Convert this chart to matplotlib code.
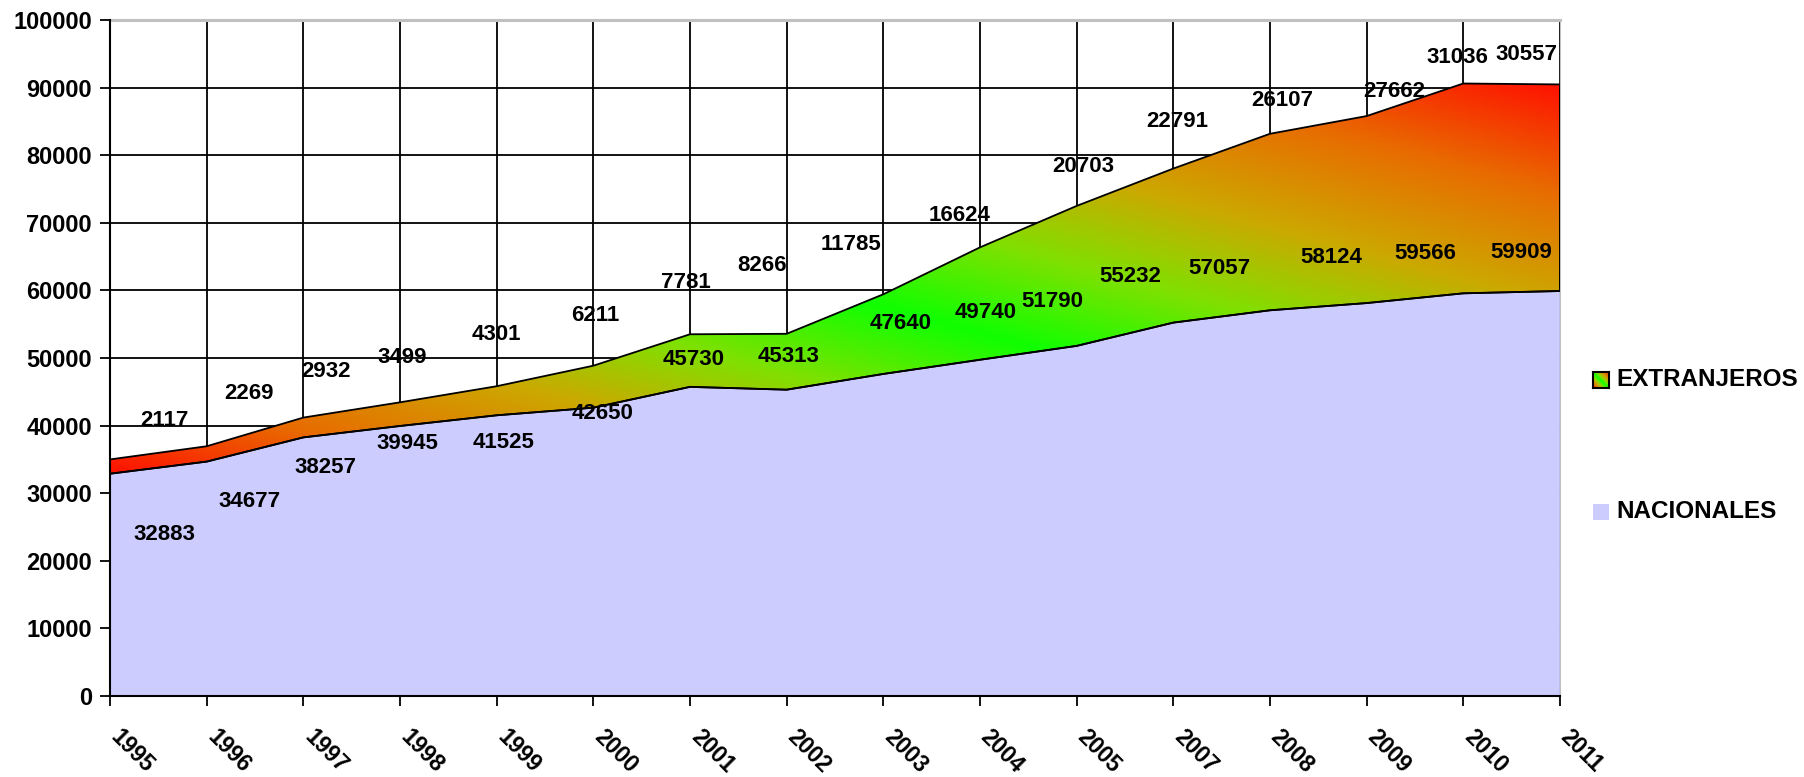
import numpy as np
import matplotlib
matplotlib.use('Agg')
import matplotlib.pyplot as plt
from matplotlib.colors import LinearSegmentedColormap
from matplotlib.transforms import ScaledTranslation

plt.rcParams['font.family'] = ['Liberation Sans', 'DejaVu Sans']
plt.rcParams['font.weight'] = 'bold'

# datos
years = ['1995', '1996', '1997', '1998', '1999', '2000', '2001', '2002',
         '2003', '2004', '2005', '2007', '2008', '2009', '2010', '2011']
nacionales = [32883, 34677, 38257, 39945, 41525, 42650, 45730, 45313,
              47640, 49740, 51790, 55232, 57057, 58124, 59566, 59909]
extranjeros = [2117, 2269, 2932, 3499, 4301, 6211, 7781, 8266,
               11785, 16624, 20703, 22791, 26107, 27662, 31036, 30557]

# posiciones de las etiquetas (colocadas a mano en el original)
nac_lx = [0.56, 1.44, 2.23, 3.08, 4.07, 5.10, 6.04, 7.02,
          8.18, 9.06, 9.75, 10.55, 11.48, 12.63, 13.61, 14.60]
nac_ly = [23850, 28790, 33730, 37310, 37480, 41740, 49750, 50260,
          55030, 56730, 58430, 62030, 63220, 64920, 65430, 65600]
ext_lx = [0.56, 1.44, 2.23, 3.02, 4.00, 5.02, 5.96, 6.75,
          7.67, 8.79, 10.07, 11.04, 12.13, 13.29, 13.94, 14.65]
ext_ly = [40720, 44820, 48050, 50100, 53500, 56230, 61170, 63730,
          66800, 71060, 78380, 85030, 88100, 89440, 94380, 94890]

x = np.arange(len(years))
nac = np.array(nacionales)
tot = nac + np.array(extranjeros)

grad = LinearSegmentedColormap.from_list('grad', [
    (0.0, '#ff1200'), (0.12, '#e86c00'), (0.25, '#cca800'), (0.36, '#80e000'),
    (0.48, '#10ff00'), (0.60, '#80e000'), (0.72, '#cca800'), (0.86, '#e86c00'),
    (1.0, '#ff1200')])

fig = plt.figure(figsize=(18.04, 7.77), dpi=100)
ax = fig.add_axes([0.061, 0.1042, 0.8037, 0.8701])

# area nacionales
ax.fill_between(x, 0, nac, facecolor='#ccccff', edgecolor='none', zorder=2)
ax.plot(x, nac, color='black', lw=1.3, zorder=3)

# area extranjeros con degradado
poly = ax.fill_between(x, nac, tot, facecolor='none', edgecolor='black', lw=1.3, zorder=4)
y0, y1 = nac.min(), tot.max()
uu, vv = np.meshgrid(np.linspace(0, 1, 400), np.linspace(0, 1, 300))
im = ax.imshow((uu + vv) / 2, cmap=grad, vmin=0, vmax=1, origin='lower',
               extent=[0, 15, y0, y1], aspect='auto', interpolation='bilinear', zorder=2.5)
im.set_clip_path(poly.get_paths()[0], transform=ax.transData)

# etiquetas
for i in range(len(years)):
    ax.text(nac_lx[i], nac_ly[i], str(nacionales[i]), ha='center', va='center',
            fontsize=16, fontweight='bold', zorder=6)
    ax.text(ext_lx[i], ext_ly[i], str(extranjeros[i]), ha='center', va='center',
            fontsize=16, fontweight='bold', zorder=6)

ax.set_xlim(0, 15)
ax.set_ylim(0, 100000)
ax.set_yticks(np.arange(0, 100001, 10000))
ax.set_xticks(x)
ax.set_xticklabels(years, rotation=-45, ha='left', va='top', rotation_mode='anchor')
ax.tick_params(axis='x', pad=14, labelsize=16.5, length=7, width=1.3, direction='out')
ax.tick_params(axis='y', labelsize=17, length=7, width=1.3, direction='out', pad=6)
shift = ScaledTranslation(9 / 72, 0, fig.dpi_scale_trans)
for lab in ax.get_xticklabels():
    lab.set_transform(lab.get_transform() + shift)
for lab in ax.get_xticklabels() + ax.get_yticklabels():
    lab.set_fontweight('bold')

ax.set_axisbelow(True)
ax.grid(True, color='black', lw=1.3)
ax.spines['left'].set_linewidth(1.5)
ax.spines['bottom'].set_linewidth(1.5)
ax.spines['top'].set_color('#c0c0c0')
ax.spines['right'].set_color('#c0c0c0')
ax.spines['top'].set_linewidth(2.2)
ax.spines['top'].set_zorder(1)

# leyenda
sw = fig.add_axes([1593 / 1804, 1 - 388 / 777, 16 / 1804, 16 / 777])
sw.imshow((uu + vv) / 2, cmap=grad, vmin=0, vmax=1, origin='lower', aspect='auto')
sw.set_xticks([])
sw.set_yticks([])
for s in sw.spines.values():
    s.set_linewidth(1.5)
fig.patches.append(plt.Rectangle((1593 / 1804, 1 - 520 / 777), 16 / 1804, 16 / 777,
                                 transform=fig.transFigure, facecolor='#ccccff', edgecolor='none'))
fig.text(1616 / 1804, 1 - 380 / 777, 'EXTRANJEROS', fontsize=17.5, fontweight='bold', va='center')
fig.text(1616 / 1804, 1 - 512 / 777, 'NACIONALES', fontsize=17.5, fontweight='bold', va='center')

fig.savefig('out.png', dpi=100)
